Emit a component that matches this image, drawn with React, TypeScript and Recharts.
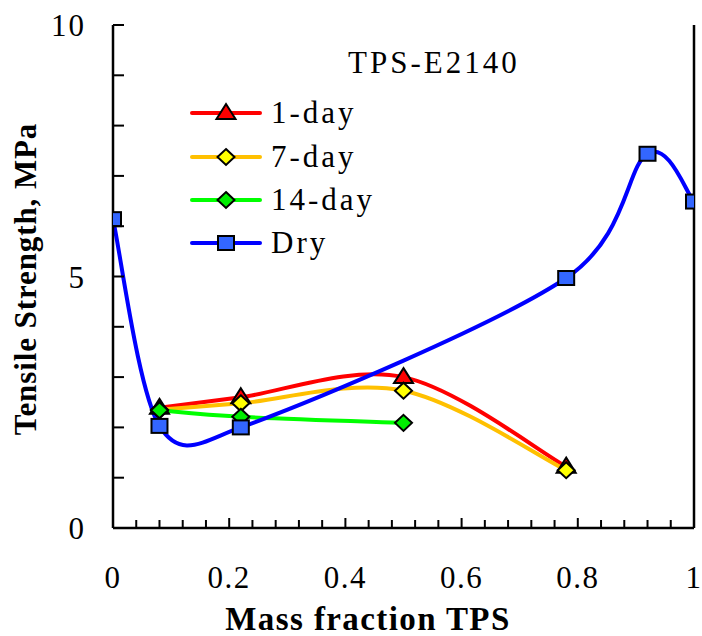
import React from "react";
import { Legend, Line, LineChart, XAxis, YAxis } from "recharts";

const FONT = "Liberation Serif, Tinos, Times New Roman, DejaVu Serif, serif";

const X_TICKS = [
  0, 0.04, 0.08, 0.12, 0.16, 0.2, 0.24, 0.28, 0.32, 0.36, 0.4, 0.44, 0.48,
  0.52, 0.56, 0.6, 0.64, 0.68, 0.72, 0.76, 0.8, 0.84, 0.88, 0.92, 0.96, 1
];
const X_LABELS = [0, 0.2, 0.4, 0.6, 0.8, 1];
const Y_TICKS = [0, 1, 2, 3, 4, 5, 6, 7, 8, 9, 10];
const Y_LABELS = [0, 5, 10];

const DAY1_X = [0.08, 0.22, 0.5, 0.78];
const DAY1_Y = [2.39, 2.6, 3.0, 1.22];

const DAY7_X = [0.08, 0.22, 0.5, 0.78];
const DAY7_Y = [2.35, 2.48, 2.73, 1.15];

const DAY14_X = [0.08, 0.22, 0.5];
const DAY14_Y = [2.34, 2.21, 2.09];

const DRY_X = [0, 0.08, 0.22, 0.78, 0.92, 1];
const DRY_Y = [6.14, 2.03, 2.0, 4.97, 7.44, 6.49];

const LEGEND_TITLE = "TPS-E2140";

type Marker = "triangle" | "diamond" | "square";

const toPoints = (xs: number[], ys: number[]) =>
  xs.map((x, i) => ({ x, y: ys[i] }));

const SERIES: {
  name: string;
  data: { x: number; y: number }[];
  stroke: string;
  fill: string;
  marker: Marker;
}[] = [
  { name: "1-day", data: toPoints(DAY1_X, DAY1_Y), stroke: "#ff0000", fill: "#ff0000", marker: "triangle" },
  { name: "7-day", data: toPoints(DAY7_X, DAY7_Y), stroke: "#ffc000", fill: "#ffff00", marker: "diamond" },
  { name: "14-day", data: toPoints(DAY14_X, DAY14_Y), stroke: "#00ff00", fill: "#00ee00", marker: "diamond" },
  { name: "Dry", data: toPoints(DRY_X, DRY_Y), stroke: "#0000ff", fill: "#3366ff", marker: "square" }
];

// spreadsheet-style smoothing: bezier with tangents (p2 - p0) / 6,
// each clamped to half of the segment length
function smoothCurve(context: any) {
  let pts: number[][] = [];
  return {
    areaStart() {},
    areaEnd() {},
    lineStart() {
      pts = [];
    },
    point(x: number, y: number) {
      pts.push([+x, +y]);
    },
    lineEnd() {
      const n = pts.length;
      if (!n) return;
      context.moveTo(pts[0][0], pts[0][1]);
      if (n === 2) context.lineTo(pts[1][0], pts[1][1]);
      if (n < 3) return;
      const clamp = (v: number[], max: number) => {
        const len = Math.hypot(v[0], v[1]);
        return len > max && len > 0 ? [(v[0] * max) / len, (v[1] * max) / len] : v;
      };
      for (let i = 0; i < n - 1; i++) {
        const p0 = pts[i - 1] || pts[i];
        const p1 = pts[i];
        const p2 = pts[i + 1];
        const p3 = pts[i + 2] || pts[i + 1];
        const half = Math.hypot(p2[0] - p1[0], p2[1] - p1[1]) / 2;
        const t1 = clamp([(p2[0] - p0[0]) / 6, (p2[1] - p0[1]) / 6], half);
        const t2 = clamp([(p3[0] - p1[0]) / 6, (p3[1] - p1[1]) / 6], half);
        context.bezierCurveTo(
          p1[0] + t1[0],
          p1[1] + t1[1],
          p2[0] - t2[0],
          p2[1] - t2[1],
          p2[0],
          p2[1]
        );
      }
    }
  };
}

function MarkerShape({ cx, cy, marker, fill }: { cx: number; cy: number; marker: Marker; fill: string }) {
  if (marker === "square") {
    return <rect x={cx - 8} y={cy - 7} width={16} height={14} fill={fill} stroke="#000" strokeWidth={2} />;
  }
  if (marker === "diamond") {
    return (
      <polygon
        points={`${cx},${cy - 8} ${cx + 8.5},${cy} ${cx},${cy + 8} ${cx - 8.5},${cy}`}
        fill={fill}
        stroke="#000"
        strokeWidth={2}
      />
    );
  }
  return (
    <polygon
      points={`${cx},${cy - 9} ${cx + 9.5},${cy + 6} ${cx - 9.5},${cy + 6}`}
      fill={fill}
      stroke="#000"
      strokeWidth={2}
    />
  );
}

const textStyle = (size: number, spacing: number, bold = false) => ({
  fontFamily: FONT,
  fontSize: size,
  letterSpacing: spacing,
  fontWeight: bold ? 700 : 400
});

function XTick(props: any) {
  const { x, y, payload } = props;
  const major = X_LABELS.includes(payload.value);
  return (
    <g>
      <line x1={x} x2={x} y1={y} y2={y - (major ? 10 : 8)} stroke="#000" strokeWidth={2} />
      {major ? (
        <text x={x} y={y + 60} textAnchor="middle" fill="#000" style={textStyle(31, 1.5)}>
          {payload.value}
        </text>
      ) : null}
    </g>
  );
}

function YTick(props: any) {
  const { x, y, payload } = props;
  const labeled = Y_LABELS.includes(payload.value);
  return (
    <g>
      <line x1={x} x2={x + 11} y1={y} y2={y} stroke="#000" strokeWidth={2} />
      {labeled ? (
        <text x={x - 27} y={y + 11} textAnchor="end" fill="#000" style={textStyle(31, 2)}>
          {payload.value}
        </text>
      ) : null}
    </g>
  );
}

function LegendBox() {
  const rows = [113, 157, 200, 243];
  return (
    <svg width={702} height={270} style={{ display: "block" }}>
      <text x={348} y={73} fill="#000" style={textStyle(31, 3)}>
        {LEGEND_TITLE}
      </text>
      {SERIES.map((s, i) => (
        <g key={s.name}>
          <line x1={192} x2={260} y1={rows[i]} y2={rows[i]} stroke={s.stroke} strokeWidth={4} strokeLinecap="round" />
          <MarkerShape cx={226} cy={rows[i]} marker={s.marker} fill={s.fill} />
          <text x={271} y={rows[i] + 10} fill="#000" style={textStyle(31, 3)}>
            {s.name}
          </text>
        </g>
      ))}
    </svg>
  );
}

export default function App() {
  return (
    <div style={{ position: "absolute", left: 0, top: 0, width: 702, height: 636, background: "#fff" }}>
      <LineChart width={702} height={636} margin={{ top: 25, right: 0, bottom: 0, left: 0 }}>
        <XAxis
          dataKey="x"
          type="number"
          domain={[0, 1]}
          ticks={X_TICKS}
          interval={0}
          tickSize={0}
          tickMargin={0}
          tick={XTick}
          tickLine={false}
          axisLine={{ stroke: "#000", strokeWidth: 2.5 }}
          height={108}
          allowDataOverflow
        />
        <XAxis
          xAxisId="top"
          orientation="top"
          type="number"
          domain={[0, 1]}
          height={0}
          tick={false}
          tickLine={false}
          axisLine={{ stroke: "#000", strokeWidth: 2.5 }}
        />
        <YAxis
          type="number"
          domain={[0, 10]}
          ticks={Y_TICKS}
          interval={0}
          tickSize={0}
          tickMargin={0}
          tick={YTick}
          tickLine={false}
          axisLine={{ stroke: "#000", strokeWidth: 2.5 }}
          width={113}
          allowDataOverflow
        />
        <YAxis
          yAxisId="right"
          orientation="right"
          type="number"
          domain={[0, 10]}
          width={8}
          tick={false}
          tickLine={false}
          axisLine={{ stroke: "#000", strokeWidth: 2.5 }}
        />
        <Legend
          layout="vertical"
          align="center"
          verticalAlign="middle"
          content={() => <LegendBox />}
          wrapperStyle={{ left: 0, top: 0, width: 702, height: 270, pointerEvents: "none" }}
        />
        {SERIES.map((s) => (
          <Line
            key={s.name}
            name={s.name}
            data={s.data}
            dataKey="y"
            type={smoothCurve as any}
            stroke={s.stroke}
            strokeWidth={4}
            dot={(p: any) => (
              <MarkerShape key={`${s.name}-${p.index}`} cx={p.cx} cy={p.cy} marker={s.marker} fill={s.fill} />
            )}
            activeDot={false}
            isAnimationActive={false}
          />
        ))}
        <text x={368} y={630} textAnchor="middle" fill="#000" style={textStyle(33, 1.4, true)}>
          Mass fraction TPS
        </text>
        <text transform="translate(36,279) rotate(-90)" textAnchor="middle" fill="#000" style={textStyle(31, 0.9, true)}>
          Tensile Strength, MPa
        </text>
      </LineChart>
    </div>
  );
}
